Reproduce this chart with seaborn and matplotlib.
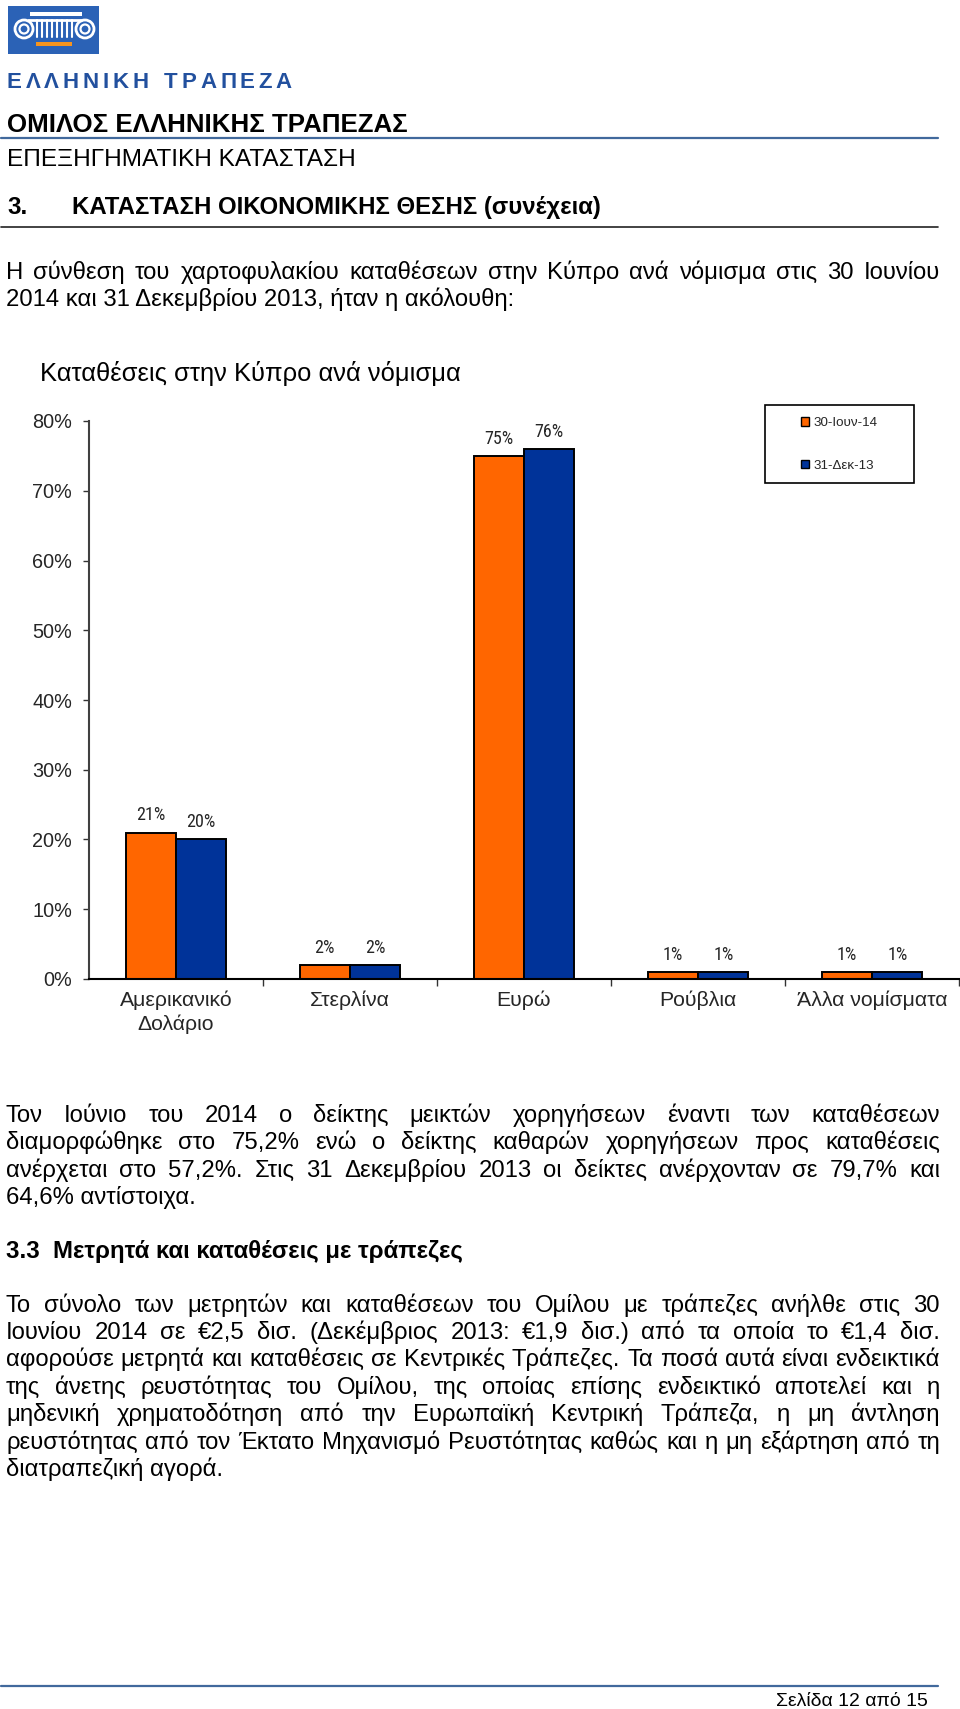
import matplotlib
matplotlib.use("Agg")
import matplotlib.pyplot as plt
import matplotlib.patches as mpatches
from matplotlib import font_manager
from matplotlib.ticker import FuncFormatter
import pandas as pd
import seaborn as sns

# chart data
categories = ["Αμερικανικό\nΔολάριο", "Στερλίνα", "Ευρώ", "Ρούβλια", "Άλλα νομίσματα"]
periods = ["30-Ιουν-14", "31-Δεκ-13"]
jun14 = [21, 2, 75, 1, 1]
dec13 = [20, 2, 76, 1, 1]
y_ticks = [0, 10, 20, 30, 40, 50, 60, 70, 80]
chart_title = "Καταθέσεις στην Κύπρο ανά νόμισμα"

# page text
bank_name = "ΕΛΛΗΝΙΚΗ ΤΡΑΠΕΖΑ"
group_title = "ΟΜΙΛΟΣ ΕΛΛΗΝΙΚΗΣ ΤΡΑΠΕΖΑΣ"
report_title = "ΕΠΕΞΗΓΗΜΑΤΙΚΗ ΚΑΤΑΣΤΑΣΗ"
section_no = "3."
section_title = "ΚΑΤΑΣΤΑΣΗ ΟΙΚΟΝΟΜΙΚΗΣ ΘΕΣΗΣ (συνέχεια)"
para1 = ["Η σύνθεση του χαρτοφυλακίου καταθέσεων στην Κύπρο ανά νόμισμα στις 30 Ιουνίου",
         "2014 και 31 Δεκεμβρίου 2013, ήταν η ακόλουθη:"]
para2 = ["Τον Ιούνιο του 2014 ο δείκτης μεικτών χορηγήσεων έναντι των καταθέσεων",
         "διαμορφώθηκε στο 75,2% ενώ ο δείκτης καθαρών χορηγήσεων προς καταθέσεις",
         "ανέρχεται στο 57,2%. Στις 31 Δεκεμβρίου 2013 οι δείκτες ανέρχονταν σε 79,7% και",
         "64,6% αντίστοιχα."]
sub_heading = "3.3  Μετρητά και καταθέσεις με τράπεζες"
para3 = ["Το σύνολο των μετρητών και καταθέσεων του Ομίλου με τράπεζες ανήλθε στις 30",
         "Ιουνίου 2014 σε €2,5 δισ. (Δεκέμβριος 2013: €1,9 δισ.) από τα οποία το €1,4 δισ.",
         "αφορούσε μετρητά και καταθέσεις σε Κεντρικές Τράπεζες. Τα ποσά αυτά είναι ενδεικτικά",
         "της άνετης ρευστότητας του Ομίλου, της οποίας επίσης ενδεικτικό αποτελεί και η",
         "μηδενική χρηματοδότηση από την Ευρωπαϊκή Κεντρική Τράπεζα, η μη άντληση",
         "ρευστότητας από τον Έκτατο Μηχανισμό Ρευστότητας καθώς και η μη εξάρτηση από τη",
         "διατραπεζική αγορά."]
footer = "Σελίδα 12 από 15"

ORANGE = "#FF6600"
BLUE = "#003399"
RULE = "#41699c"
W, H = 960, 1709

sns.set_theme(style="ticks")
ARIAL = dict(family=["Liberation Sans", "DejaVu Sans"], stretch="normal")


def find_narrow():
    # the data labels in the original are in an Arial Narrow look
    ents = font_manager.fontManager.ttflist
    names = {e.name for e in ents}
    cond = {e.name for e in ents if "condensed" in str(e.stretch)}
    for name in ["Liberation Sans Narrow", "Roboto Condensed", "Noto Sans Condensed"]:
        if name in names:
            return dict(family=[name, "DejaVu Sans"], stretch="normal")
    for name in ["Noto Sans", "DejaVu Sans"]:
        if name in cond:
            return dict(family=[name, "DejaVu Sans"], stretch="condensed")
    return dict(ARIAL)


NARROW = find_narrow()
plt.rcParams["font.family"] = ARIAL["family"]

fig = plt.figure(figsize=(W / 100, H / 100), dpi=100)
page = fig.add_axes([0, 0, 1, 1])
page.set_xlim(0, W)
page.set_ylim(H, 0)
page.axis("off")
renderer = fig.canvas.get_renderer()


def text_width(s, size, font=ARIAL, weight="normal"):
    t = page.text(0, 0, s, fontsize=size, weight=weight, **font)
    w = t.get_window_extent(renderer).width
    t.remove()
    return w


def fit(s, width, font=ARIAL, weight="normal", cap=None):
    size = 10 * width / text_width(s, 10, font, weight)
    return min(size, cap) if cap else size


def put(x, yc, s, size, font=ARIAL, weight="normal", color="black", ha="left"):
    # yc = vertical centre of the capitals, in page pixels
    base = yc + 0.358 * size * 100 / 72
    page.text(x, base, s, fontsize=size, weight=weight, color=color,
              ha=ha, va="baseline", **font)


def justify(line, x0, x1, yc, size, font=ARIAL):
    words = line.split(" ")
    widths = [text_width(w, size, font) for w in words]
    gap = (x1 - x0 - sum(widths)) / (len(words) - 1)
    x = x0
    for w, wd in zip(words, widths):
        put(x, yc, w, size, font)
        x += wd + gap


def paragraph(lines, y0, step, size, x0=6, x1=940):
    for i, line in enumerate(lines):
        y = y0 + i * step
        if i == len(lines) - 1:
            put(x0, y, line, size)
        else:
            justify(line, x0, x1, y, size)


# logo
page.add_patch(mpatches.Rectangle((8, 6), 91, 48, facecolor="#2b62b6", edgecolor="none"))
page.add_patch(mpatches.Rectangle((30, 12), 52, 3.5, facecolor="white", edgecolor="none"))
for cx in (24, 85):
    page.add_patch(mpatches.Circle((cx, 29), 9, fill=False, edgecolor="white", lw=2))
    page.add_patch(mpatches.Circle((cx, 29), 4.5, fill=False, edgecolor="white", lw=1.6))
page.plot([28, 81], [20, 20], color="white", lw=2)
for vx in range(37, 75, 5):
    page.plot([vx, vx], [20, 37], color="white", lw=1.5)
page.add_patch(mpatches.Rectangle((36, 42), 36, 3.5, facecolor="#f7941d", edgecolor="none"))

# bank name, letter spaced
bsize = 16
cw = [text_width(c, bsize, ARIAL, "bold") if c != " " else bsize * 0.5 for c in bank_name]
track = (285 - sum(cw)) / (len(bank_name) - 1)
x = 7
for c, w in zip(bank_name, cw):
    put(x, 80, c, bsize, ARIAL, "bold", color="#22509e")
    x += w + track

put(7, 123, group_title, fit(group_title, 398, ARIAL, "bold"), ARIAL, "bold")
page.plot([1, 938], [138, 138], color=RULE, lw=1.6)
put(7, 157, report_title, fit(report_title, 348))
sec_size = fit(section_title, 526, ARIAL, "bold")
put(7, 205, section_no, sec_size, ARIAL, "bold")
put(72, 205, section_title, sec_size, ARIAL, "bold")
page.plot([1, 938], [227, 227], color="#222222", lw=1.2)

body = min(fit(l, 930) for l in para1[:-1] + para2[:-1] + para3[:-1])
paragraph(para1, 270, 27, body)
put(40, 372, chart_title, fit(chart_title, 420))
paragraph(para2, 1113, 27.5, body)
put(6, 1249, sub_heading, fit(sub_heading, 457, ARIAL, "bold"), ARIAL, "bold")
paragraph(para3, 1303, 27.4, body)

page.plot([1, 938], [1686, 1686], color=RULE, lw=1.6)
put(928, 1699, footer, fit(footer, 151), ha="right")

# chart
ax = fig.add_axes([89 / W, 1 - 979 / H, (959 - 89) / W, (979 - 421) / H])
ax.patch.set_alpha(0)
df = pd.DataFrame({
    "category": categories * 2,
    "period": [periods[0]] * len(categories) + [periods[1]] * len(categories),
    "value": jun14 + dec13,
})
sns.barplot(data=df, x="category", y="value", hue="period", palette=[ORANGE, BLUE],
            saturation=1, width=0.58, edgecolor="black", linewidth=1.4,
            errorbar=None, legend=False, ax=ax)

lab_size = fit("21%", 32, NARROW, cap=13)
for cont in ax.containers:
    ax.bar_label(cont, fmt="%d%%", padding=6, fontsize=lab_size, **NARROW)

ax.set_xlim(-0.5, 4.5)
ax.set_ylim(0, 80)
ax.set_yticks(y_ticks)
ax.yaxis.set_major_formatter(FuncFormatter(lambda v, p: f"{v:.0f}%"))
ax.set_xlabel("")
ax.set_ylabel("")
ax.tick_params(axis="y", length=4.3, width=1, color="#333333", pad=8,
               labelsize=fit("80%", 40))
ax.set_xticks(range(len(categories)))
ax.set_xticklabels(categories)
ax.set_xticks([0.5, 1.5, 2.5, 3.5, 4.5], minor=True)
ax.tick_params(axis="x", which="major", length=0, pad=8,
               labelsize=fit("Άλλα νομίσματα", 151))
ax.tick_params(axis="x", which="minor", length=5, width=1, color="#333333")
for lbl in ax.get_xticklabels():
    lbl.set_linespacing(1.3)
sns.despine(ax=ax)
ax.spines["left"].set_color("#404040")
ax.spines["left"].set_linewidth(1.5)
ax.spines["bottom"].set_color("black")
ax.spines["bottom"].set_linewidth(1.5)

# legend
page.add_patch(mpatches.Rectangle((765, 405), 149, 78, fill=False, edgecolor="black", lw=1.2))
handles = [mpatches.Patch(facecolor=ORANGE, edgecolor="black"),
           mpatches.Patch(facecolor=BLUE, edgecolor="black")]
page.legend(handles, periods, loc="upper left", bbox_to_anchor=(801, 417),
            bbox_transform=page.transData, frameon=False,
            fontsize=fit("30-Ιουν-14", 64), handlelength=0.6, handleheight=0.6,
            handletextpad=0.3, labelspacing=2.3, borderpad=0, borderaxespad=0)

fig.savefig("out.png", dpi=100)
